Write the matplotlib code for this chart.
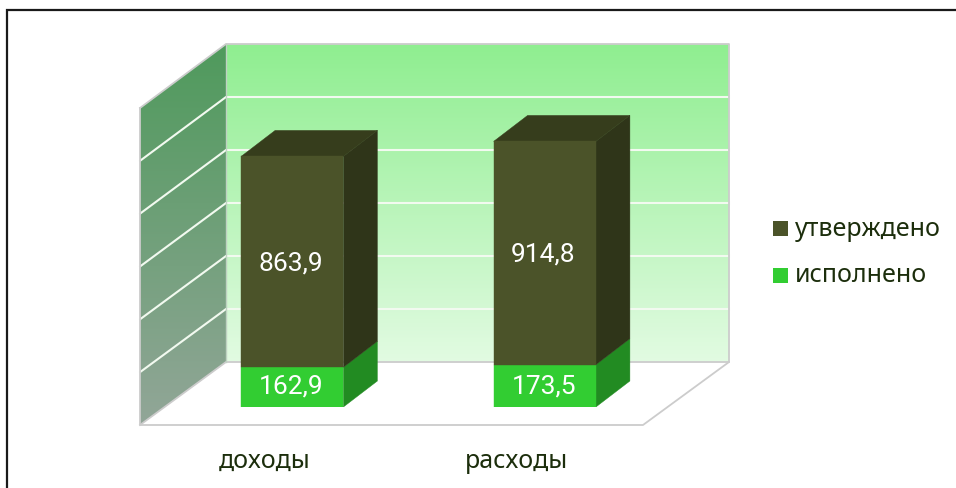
import numpy as np
import matplotlib
matplotlib.use("Agg")
import matplotlib.pyplot as plt
from matplotlib.colors import LinearSegmentedColormap
from matplotlib.patches import Polygon, Rectangle
from matplotlib.transforms import Affine2D

categories = ["доходы", "расходы"]
executed = [162.9, 173.5]
approved = [863.9, 914.8]
series_names = ["утверждено", "исполнено"]

W, H = 956, 488
plt.rcParams["font.family"] = ["Noto Sans", "DejaVu Sans"]
fig = plt.figure(figsize=(W / 100, H / 100), dpi=100, facecolor="white")

# scene layer in pixel coordinates
bg = fig.add_axes([0, 0, 1, 1], zorder=0)
bg.set_xlim(0, W)
bg.set_ylim(H, 0)
bg.axis("off")
bg.plot([7, 7, W], [H, 10, 10], color="#1A1A1A", lw=1.6, solid_joinstyle="miter")


def gradient(axes, colors, poly, extent):
    cmap = LinearSegmentedColormap.from_list("g", colors)
    im = axes.imshow(np.linspace(0, 1, 256)[:, None], cmap=cmap, extent=extent,
                     aspect="auto", zorder=1, interpolation="bilinear")
    clip = Polygon(poly, closed=True, transform=axes.transData, fc="none", ec="none")
    axes.add_patch(clip)
    im.set_clip_path(clip)


bx0, bx1, by0, by1 = 226, 729, 44, 362
fx0, fx1, fy0 = 140, 643, 425
lx, ly_top = 140, 108
# back wall
gradient(bg, ["#8FEE90", "#E2FBE2"], [(bx0, by0), (bx1, by0), (bx1, by1), (bx0, by1)],
         (bx0, bx1, by1, by0))
# left wall
gradient(bg, ["#4F9A5C", "#92A698"], [(lx, ly_top), (bx0, by0), (bx0, by1), (lx, fy0)],
         (lx, bx0, fy0, by0))
# gridlines
n_grid = 6
for i in range(1, n_grid):
    y_back = by0 + (by1 - by0) * i / n_grid
    y_front = ly_top + (fy0 - ly_top) * i / n_grid
    bg.plot([lx, bx0, bx1], [y_front, y_back, y_back], color="#F2FAF0", lw=1.5, zorder=2,
            solid_joinstyle="miter")
# outline
edge = dict(color="#CCCCCC", lw=1.3, zorder=3)
bg.plot([lx, bx0, bx1, bx1, fx1, fx0, lx], [ly_top, by0, by0, by1, fy0, fy0, ly_top], **edge)
bg.plot([fx0, bx0, bx1], [fy0, by1, by1], **edge)
bg.plot([bx0, bx0], [by0, by1], color="#BFD2C2", lw=1, zorder=3)

# bars: value axes on the plane of the bars' front faces
ax_left, ax_right, ax_bottom, ax_top = 165, 668, 407, 89
ax = fig.add_axes([ax_left / W, 1 - ax_bottom / H, (ax_right - ax_left) / W, (ax_bottom - ax_top) / H],
                  zorder=1)
ax.set_xlim(-0.504, 1.488)
ax.set_ylim(0, 1303)
ax.axis("off")
ax.patch.set_alpha(0)

bar_w = 0.405
depth = Affine2D().translate(34, 26)   # display pixels, y up
back = ax.transData + depth


def box(x, y0, y1, front, side, top=None):
    a, b = x - bar_w / 2, x + bar_w / 2
    ax.add_patch(Polygon(
        np.vstack([ax.transData.transform([(b, y0), (b, y1)]), back.transform([(b, y1), (b, y0)])]),
        closed=True, fc=side, ec=side, lw=0.3, transform=None, zorder=2))
    if top:
        ax.add_patch(Polygon(
            np.vstack([ax.transData.transform([(a, y1), (b, y1)]), back.transform([(b, y1), (a, y1)])]),
            closed=True, fc=top, ec=top, lw=0.3, transform=None, zorder=2))
    ax.add_patch(Rectangle((a, y0), bar_w, y1 - y0, fc=front, ec=front, lw=0.3, zorder=3))


for i, (e, a) in enumerate(zip(executed, approved)):
    box(i, 0, e, "#32CD32", "#228B22")
    box(i, e, e + a, "#4B5329", "#2F3519", "#363D1C")
    ax.text(i - 0.004, 86, f"{e:.1f}".replace(".", ","), color="white", fontsize=19,
            family="Roboto", ha="center", va="center", zorder=5)
    ax.text(i - 0.006, e + a / 2 - 8, f"{a:.1f}".replace(".", ","), color="white", fontsize=19,
            family="Roboto", ha="center", va="center", zorder=5)

# category labels
bg_text = dict(color="#1C2E0C", fontsize=18, ha="center", va="center", zorder=5)
for i, c in enumerate(categories):
    x = ax.transData.transform((i, 0))[0]
    bg.text(x - 28, 461, c, **bg_text)

# legend
for y, name, col in zip((228.5, 275.5), series_names, ("#4B5329", "#32CD32")):
    bg.add_patch(Rectangle((773, y - 7.5), 15, 15, fc=col, ec="none", zorder=5))
    bg.text(795, y + 0.5, name, color="#1C2E0C", fontsize=18, va="center", ha="left", zorder=5)

fig.savefig("out.png", dpi=100)
